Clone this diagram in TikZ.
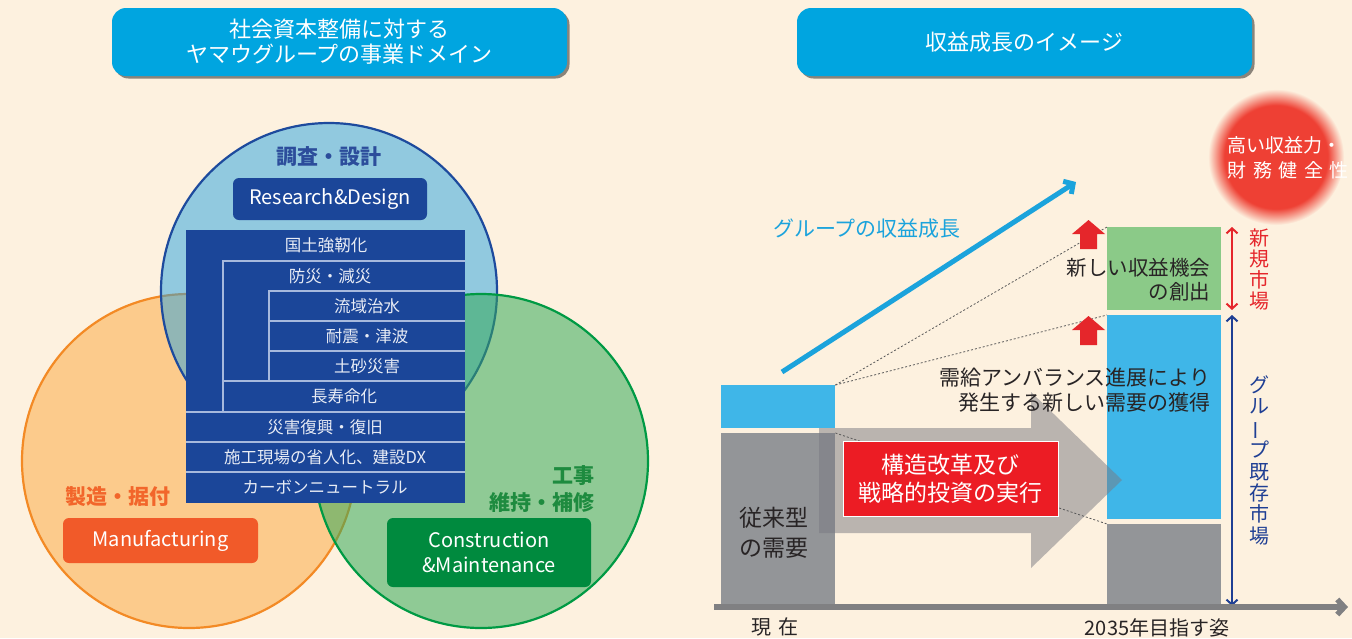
\documentclass[tikz,border=0pt]{standalone}
\usepackage{fontspec}
\setmainfont{Noto Sans CJK JP}
\usepackage{graphicx}
\usetikzlibrary{shadows, arrows.meta, positioning}
\tikzset{>=latex}

\definecolor{bgcream}{RGB}{253,241,223}
\definecolor{titleblue}{RGB}{0,165,224}
\definecolor{rdfill}{RGB}{39,163,223}
\definecolor{rdline}{RGB}{29,74,157}
\definecolor{rdtext}{RGB}{44,77,155}
\definecolor{mffill}{RGB}{252,203,140}
\definecolor{mfline}{RGB}{243,138,37}
\definecolor{mftext}{RGB}{242,102,43}
\definecolor{mfboxc}{RGB}{241,90,41}
\definecolor{cmfill}{RGB}{53,170,90}
\definecolor{cmline}{RGB}{0,154,68}
\definecolor{cmtext}{RGB}{30,139,63}
\definecolor{cmboxc}{RGB}{0,138,62}
\definecolor{domblue}{RGB}{27,70,153}
\definecolor{domlinec}{RGB}{167,185,221}
\definecolor{barblue}{RGB}{63,182,232}
\definecolor{bargray}{RGB}{147,149,152}
\definecolor{bargreen}{RGB}{139,202,136}
\definecolor{arrowgray}{RGB}{121,121,129}
\definecolor{axisgray}{RGB}{128,128,130}
\definecolor{reformred}{RGB}{236,28,36}
\definecolor{growcyan}{RGB}{27,163,220}
\definecolor{newred}{RGB}{229,38,43}
\definecolor{oldblue}{RGB}{31,63,148}
\definecolor{glowred}{RGB}{238,64,52}
\definecolor{inktext}{RGB}{40,36,37}

\pgfdeclareradialshading{glow}{\pgfpoint{0bp}{0bp}}{color(0bp)=(glowred); color(19bp)=(glowred); color(25bp)=(bgcream); color(50bp)=(bgcream)}

\newcommand{\vchoon}{\rotatebox[origin=c]{90}{ー}}

\tikzset{
	titlebox/.style={rounded corners=14pt, fill=titleblue, text=white, align=center,
		minimum width=455pt, minimum height=68pt, font=\fontsize{22}{25}\selectfont,
		drop shadow={shadow xshift=2.5pt, shadow yshift=-2.5pt, opacity=.45, fill=black}},
	labelbox/.style={rounded corners=6pt, text=white, align=center, inner sep=0pt,
		font=\fontsize{20}{25}\selectfont},
	rowtext/.style={text=white!90!domblue, font=\fontsize{16.5}{18}\selectfont},
	domline/.style={draw=domlinec, line width=1.3pt},
	mktbar/.style={anchor=north west, inner sep=0pt, minimum width=114pt},
	dotline/.style={draw=black!65, line width=0.8pt, dash pattern=on 2pt off 2pt},
	chevron/.style={-{Straight Barb[length=7pt,width=15pt]}},
	chevrons/.style={{Straight Barb[length=5pt,width=11pt]}-{Straight Barb[length=5pt,width=11pt]}},
}

\begin{document}
\begin{tikzpicture}[x=1pt, y=-1pt]
		\fill[bgcream] (0,0) rectangle (1352,638);
		\useasboundingbox (0,0) rectangle (1352,638);

		% headings
		\node[titlebox] (domtitle) at (339.5,42) {社会資本整備に対する\\ヤマウグループの事業ドメイン};
		\node[titlebox] (growtitle) at (1024.5,42) {収益成長のイメージ};

		% the three domains
		\draw[draw=mfline, line width=2.2pt, fill=mffill] (189,461) circle (167);
		\draw[draw=rdline, line width=2.2pt, fill=rdfill, fill opacity=.5] (329,291) circle (168);
		\draw[draw=cmline, line width=2.2pt, fill=cmfill, fill opacity=.55] (481,461) circle (167);

		\node[font=\fontsize{21}{25}\selectfont\bfseries, text=rdtext] (rdname) at (329,157) {調査・設計};
		\node[labelbox, fill=domblue, minimum width=194pt, minimum height=42pt] (rdbox) at (330,199) {Research\&Design};
		\node[font=\fontsize{21}{25}\selectfont\bfseries, text=mftext] (mfname) at (118,497) {製造・据付};
		\node[labelbox, fill=mfboxc, minimum width=195pt, minimum height=45pt] (mfbox) at (160.5,540.5) {Manufacturing};
		\node[font=\fontsize{21}{27}\selectfont\bfseries, text=cmtext, align=right, anchor=east] (cmname) at (598,489.5) {工事\\維持・補修};
		\node[labelbox, fill=cmboxc, minimum width=204pt, minimum height=69pt] (cmbox) at (489,552.5) {Construction\\\&Maintenance};

		% nested business fields
		\fill[domblue] (186,230) rectangle (465,503);
		\draw[domline] (465,261) -- (223,261) -- (223,412);
		\draw[domline] (465,291) -- (269,291) -- (269,381);
		\foreach \y in {321,351}
			\draw[domline] (269,\y) -- (465,\y);
		\draw[domline] (223,381) -- (465,381);
		\foreach \y in {412,442,472}
			\draw[domline] (186,\y) -- (465,\y);

		\node[rowtext] (kokudo) at (326,245) {国土強靭化};
		\node[rowtext] (bosai) at (330,276) {防災・減災};
		\node[rowtext] (ryuiki) at (367,306) {流域治水};
		\node[rowtext] (taishin) at (367,336) {耐震・津波};
		\node[rowtext] (dosha) at (367,366) {土砂災害};
		\node[rowtext] (chouju) at (344,396.5) {長寿命化};
		\node[rowtext] (fukko) at (325,427) {災害復興・復旧};
		\node[rowtext] (shoryoku) at (325,457) {施工現場の省人化、建設DX};
		\node[rowtext] (carbon) at (325,487.5) {カーボンニュートラル};

		% bars of the growth image
		\node[mktbar, fill=barblue, minimum height=43pt] (nowup) at (721,385) {};
		\node[mktbar, fill=bargray, minimum height=174pt] (nowbase) at (721,433) {};
		\node[mktbar, fill=bargreen, minimum height=83pt] (goalnew) at (1107,227) {};
		\node[mktbar, fill=barblue, minimum height=204pt] (goalup) at (1107,315) {};
		\node[mktbar, fill=bargray, minimum height=83pt] (goalbase) at (1107,524) {};

		% the big arrow
		\fill[arrowgray, opacity=.5] (819,428) -- (1031,428) -- (1031,392) -- (1122,480)
			-- (1031,568) -- (1031,533) -- (819,533) -- cycle;

		\draw[dotline] (nowup.north east) -- (goalnew.north west);
		\draw[dotline] (nowup.north east) -- (goalup.north west);
		\draw[dotline] (nowbase.north east) -- (goalbase.north west);

		\node[fill=reformred, draw=white, line width=0.8pt, minimum width=215pt, minimum height=75pt,
			text=white, align=center, font=\fontsize{23}{28}\selectfont] (reform) at (950.5,478.5) {構造改革及び\\戦略的投資の実行};

		\foreach \t in {220,316}
			\fill[newred] (1080,\t+29) -- (1097,\t+29) -- (1097,\t+14) -- (1105,\t+14) -- (1088.5,\t)
				-- (1072,\t+14) -- (1080,\t+14) -- cycle;

		\node[text=inktext, font=\fontsize{23}{30}\selectfont, align=left] (olddemand) at (774,533) {従来型\\の需要};
		\node[text=inktext, font=\fontsize{20.5}{24}\selectfont, align=right, anchor=east] (newchance) at (1214,280) {新しい収益機会\\の創出};
		\node[text=inktext, font=\fontsize{21}{25}\selectfont, align=right, anchor=east] (imbalance) at (1214,390.5) {需給アンバランス進展により\\発生する新しい需要の獲得};

		% group growth
		\coordinate (growstart) at (782,372);
		\coordinate (growend) at (1076,182);
		\draw[growcyan, line width=5pt, chevron] (growstart) -- (growend);
		\node[text=growcyan, font=\fontsize{21}{25}\selectfont] (growlabel) at (867,229) {グループの収益成長};

		% market spans
		\coordinate (newtop) at (1232,227);
		\coordinate (newbot) at (1232,310);
		\coordinate (oldtop) at (1232,315);
		\coordinate (oldbot) at (1232,606);
		\draw[newred, line width=2pt, chevrons] (newtop) -- (newbot);
		\draw[oldblue, line width=2pt, chevrons] (oldtop) -- (oldbot);
		\node[text=newred, align=center, font=\fontsize{20}{21.3}\selectfont] (newmkt) at (1259,269.5) {新\\規\\市\\場};
		\node[text=oldblue, align=center, font=\fontsize{20}{21.3}\selectfont] (oldmkt) at (1259,460) {グ\\ル\\\vchoon\\プ\\既\\存\\市\\場};

		% the time axis
		\coordinate (axstart) at (714,607);
		\coordinate (axend) at (1348,607);
		\draw[axisgray, line width=5.5pt, chevron] (axstart) -- (axend);
		\node[text=inktext, font=\fontsize{20}{24}\selectfont] (nowlabel) at (775,627) {現\hspace{0.4em}在};
		\node[text=inktext, font=\fontsize{20}{24}\selectfont] (goallabel) at (1157,628) {2035年目指す姿};

		% strength glow
		\shade[shading=glow] (1276,157) circle (68);
		\node[text=white, align=left, font=\fontsize{19}{25}\selectfont] (strength) at (1288,158)
			{高い収益力・\\財\hspace{6.5pt}務\hspace{6.5pt}健\hspace{6.5pt}全\hspace{6.5pt}性};

	\end{tikzpicture}
\end{document}
